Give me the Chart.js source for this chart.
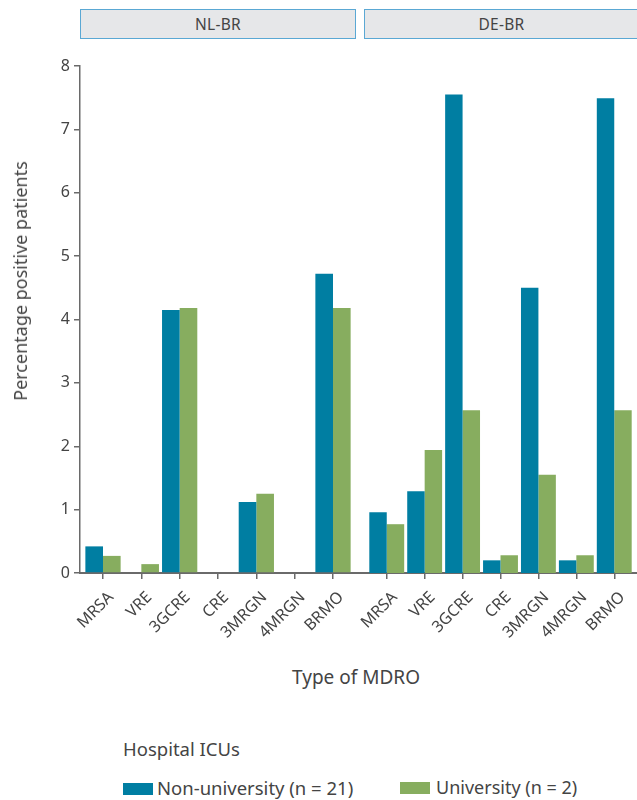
<!DOCTYPE html>
<html>
<head>
<meta charset="utf-8">
<script src="https://cdn.jsdelivr.net/npm/chart.js@4"></script>
<style>
  html, body { margin: 0; padding: 0; background: #fff; }
  body { width: 637px; height: 800px; position: relative; overflow: hidden; font-family: "Noto Sans", sans-serif; color: #444; }
  .abs { position: absolute; }
  .hdr { position: absolute; top: 9px; height: 28px; background: #e6e7e9; border: 1px solid #5aa8d4; box-sizing: content-box;
         font-size: 15.5px; line-height: 29px; text-align: center; color: #444; letter-spacing: 0.3px; }
  .sw { display: inline-block; width: 30px; height: 12px; vertical-align: baseline; }
</style>
</head>
<body>
<div class="hdr" style="left:80px;width:274px;">NL-BR</div>
<div class="hdr" style="left:364px;width:273px;border-right:none;">DE-BR</div>

<div class="abs" style="left:0;top:0;width:356px;height:643px;"><canvas id="cNL"></canvas></div>
<div class="abs" style="left:356px;top:0;width:281px;height:643px;"><canvas id="cDE"></canvas></div>

<div class="abs" id="ytitle" style="left:20px;top:281px;transform:translate(-50%,-50%) rotate(-90deg);white-space:nowrap;font-size:18px;">Percentage positive patients</div>
<div class="abs" id="xtitle" style="left:356px;top:664px;transform:translateX(-50%);white-space:nowrap;font-size:19px;">Type of MDRO</div>

<div class="abs" style="left:123px;top:736px;font-size:18.5px;white-space:nowrap;">Hospital ICUs</div>
<div class="abs" style="left:123px;top:775px;font-size:18.5px;white-space:nowrap;"><span class="sw" id="sw1"></span><span style="margin-left:4px;">Non-university (n = 21)</span></div>
<div class="abs" style="left:400px;top:775px;font-size:18px;white-space:nowrap;"><span class="sw" id="sw2"></span><span style="margin-left:6px;">University (n = 2)</span></div>

<script>
// ---- data ----
const categories = ['MRSA', 'VRE', '3GCRE', 'CRE', '3MRGN', '4MRGN', 'BRMO'];
const panels = ['NL-BR', 'DE-BR'];
const nlNonUniversity = [0.42, 0, 4.15, 0, 1.12, 0, 4.72];
const nlUniversity    = [0.27, 0.14, 4.18, 0, 1.25, 0, 4.18];
const deNonUniversity = [0.96, 1.29, 7.55, 0.20, 4.50, 0.20, 7.49];
const deUniversity    = [0.77, 1.94, 2.57, 0.28, 1.55, 0.28, 2.57];
const yTickValues = [0, 1, 2, 3, 4, 5, 6, 7, 8];
const seriesLabels = ['Non-university (n = 21)', 'University (n = 2)'];

// ---- style ----
const BLUE = '#007ea2';
const GREEN = '#87ad5f';
const AXIS = '#6a6a6a';
const TEXT = '#444444';
const FONT = '"Noto Sans", sans-serif';
const CAT_EXPAND = 0.6; // discrete axis expansion (in category units) on each side

document.getElementById('sw1').style.background = BLUE;
document.getElementById('sw2').style.background = GREEN;

Chart.defaults.font.family = FONT;
Chart.defaults.color = TEXT;

function makeDatasets(a, b) {
  return [
    { label: seriesLabels[0], data: a, backgroundColor: BLUE, borderWidth: 0, categoryPercentage: 0.92, barPercentage: 1.0 },
    { label: seriesLabels[1], data: b, backgroundColor: GREEN, borderWidth: 0, categoryPercentage: 0.92, barPercentage: 1.0 }
  ];
}

function xScale() {
  return {
    type: 'category',
    offset: true,
    grid: { display: true, drawOnChartArea: false, drawTicks: true, tickLength: 6, color: AXIS, lineWidth: 1.5, offset: false },
    border: { display: true, color: AXIS, width: 2 },
    ticks: { minRotation: 45, maxRotation: 45, autoSkip: false, padding: 9, labelOffset: 8, color: TEXT, font: { size: 16, family: FONT } },
    afterBuildTicks: (s) => {
      const n = s.getLabels().length;
      s._valueRange = n - 1 + 2 * CAT_EXPAND;
      s._startValue = s.min - CAT_EXPAND;
    },
    afterFit: (s) => { s.height = 70; s.paddingLeft = 0; s.paddingRight = 0; }
  };
}

function yScale(show) {
  return {
    type: 'linear',
    min: 0, max: 8,
    display: show,
    afterBuildTicks: (s) => { s.ticks = yTickValues.map(v => ({ value: v })); },
    grid: { display: true, drawOnChartArea: false, drawTicks: true, tickLength: 6, color: AXIS, lineWidth: 1.5 },
    border: { display: true, color: AXIS, width: 1.5 },
    ticks: { padding: 4, color: TEXT, font: { size: 16, family: FONT } },
    afterFit: (s) => { if (show) s.width = 80; }
  };
}

const baseOpts = (padLeft, showY) => ({
  responsive: true,
  maintainAspectRatio: false,
  animation: false,
  layout: { padding: { top: 66, left: padLeft, right: 0, bottom: 0 } },
  plugins: { legend: { display: false }, tooltip: { enabled: false }, title: { display: false } },
  scales: { x: xScale(), y: yScale(showY) }
});

const gapLine = {
  id: 'gapLine',
  afterDraw(chart) {
    const { ctx, chartArea } = chart;
    ctx.save();
    ctx.strokeStyle = AXIS;
    ctx.lineWidth = 2;
    ctx.beginPath();
    ctx.moveTo(0, Math.round(chartArea.bottom));
    ctx.lineTo(chartArea.left + 1, Math.round(chartArea.bottom));
    ctx.stroke();
    ctx.restore();
  }
};

new Chart(document.getElementById('cNL'), {
  type: 'bar',
  data: { labels: categories, datasets: makeDatasets(nlNonUniversity, nlUniversity) },
  options: baseOpts(0, true)
});

new Chart(document.getElementById('cDE'), {
  type: 'bar',
  data: { labels: categories, datasets: makeDatasets(deNonUniversity, deUniversity) },
  options: baseOpts(8, false),
  plugins: [gapLine]
});
</script>
</body>
</html>
